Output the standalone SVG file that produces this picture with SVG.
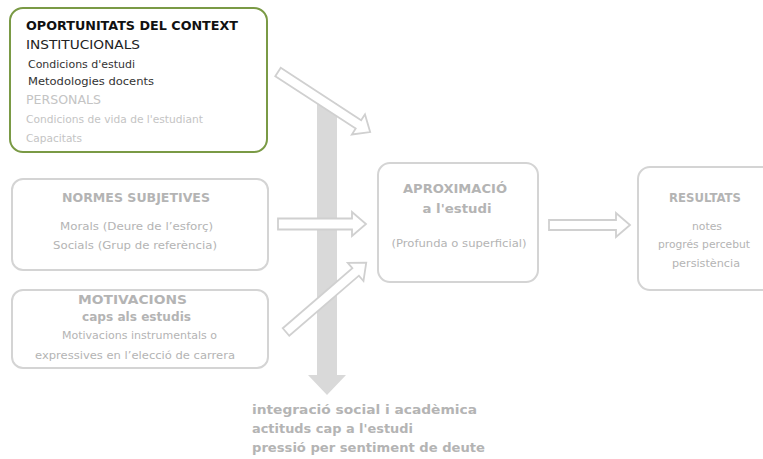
<svg xmlns="http://www.w3.org/2000/svg" width="763" height="459" viewBox="0 0 763 459">
<style>
.box{fill:#fff;stroke:#d4d4d4;stroke-width:2}
.arr{fill:#fff;stroke:#d0d0d0;stroke-width:1.8;stroke-linejoin:miter}
text{font-family:"DejaVu Sans","Liberation Sans",sans-serif;fill:#b4b4b4}
.h{font-weight:bold;font-size:12px}
.s{font-size:11px}
.c{text-anchor:middle}
</style>
<rect width="763" height="459" fill="#fff"/>
<g id="connectors">
<polygon points="317,103 337,103 337,375 346,375 327,395 308,375 317,375" fill="#d9d9d9"/>
<path class="arr" transform="translate(278,72) rotate(33.1)" d="M0,-5 H96 V-12 L110,0 L96,12 V5 H0 Z"/>
<path class="arr" transform="translate(278,224)" d="M0,-5.5 H74 V-12 L88,0 L74,12 V5.5 H0 Z"/>
<path class="arr" transform="translate(286,332) rotate(-40.8)" d="M0,-5 H92 V-12 L106,0 L92,12 V5 H0 Z"/>
<path class="arr" transform="translate(549,225)" d="M0,-5 H67 V-12 L81,0 L67,12 V5 H0 Z"/>
</g>
<g id="oportunitats">
<rect x="10" y="8" width="257" height="144" rx="13" fill="#fff" stroke="#7a9a45" stroke-width="2"/>
<text x="26" y="30" textLength="212" lengthAdjust="spacingAndGlyphs" style="font-weight:bold;font-size:13px;fill:#111">OPORTUNITATS DEL CONTEXT</text>
<text x="26" y="49" textLength="114" lengthAdjust="spacingAndGlyphs" style="font-size:13px;fill:#222">INSTITUCIONALS</text>
<text x="28" y="68" textLength="107" lengthAdjust="spacingAndGlyphs" style="font-size:10px;fill:#333">Condicions d'estudi</text>
<text x="28" y="85" textLength="126" lengthAdjust="spacingAndGlyphs" style="font-size:10px;fill:#333">Metodologies docents</text>
<text x="26" y="104" textLength="75" lengthAdjust="spacingAndGlyphs" style="font-size:13px;fill:#c4c4c4">PERSONALS</text>
<text x="26" y="123" textLength="177" lengthAdjust="spacingAndGlyphs" style="font-size:10px;fill:#c4c4c4">Condicions de vida de l'estudiant</text>
<text x="26" y="142" textLength="56" lengthAdjust="spacingAndGlyphs" style="font-size:10px;fill:#c4c4c4">Capacitats</text>
</g>
<g id="normes">
<rect class="box" x="12" y="179" width="256" height="91" rx="11"/>
<text x="136" y="202" class="h c" textLength="148" lengthAdjust="spacingAndGlyphs">NORMES SUBJETIVES</text>
<text x="136.5" y="230" class="s c" textLength="153" lengthAdjust="spacingAndGlyphs">Morals (Deure de l’esforç)</text>
<text x="135" y="249" class="s c" textLength="164" lengthAdjust="spacingAndGlyphs">Socials (Grup de referència)</text>
</g>
<g id="motivacions">
<rect class="box" x="12" y="290" width="256" height="78" rx="11"/>
<text x="132.5" y="304" class="h c" textLength="109" lengthAdjust="spacingAndGlyphs">MOTIVACIONS</text>
<text x="136.5" y="321" class="h c" textLength="109" lengthAdjust="spacingAndGlyphs">caps als estudis</text>
<text x="139.5" y="339" class="s c" textLength="155" lengthAdjust="spacingAndGlyphs">Motivacions instrumentals o</text>
<text x="135" y="359" class="s c" textLength="200" lengthAdjust="spacingAndGlyphs">expressives en l’elecció de carrera</text>
</g>
<g id="aproximacio">
<rect class="box" x="378" y="163" width="160" height="119" rx="12"/>
<text x="455" y="193" class="h c" textLength="104" lengthAdjust="spacingAndGlyphs">APROXIMACIÓ</text>
<text x="457" y="213" class="h c" textLength="69" lengthAdjust="spacingAndGlyphs">a l'estudi</text>
<text x="459" y="247" class="s c" textLength="135" lengthAdjust="spacingAndGlyphs">(Profunda o superficial)</text>
</g>
<g id="resultats">
<rect class="box" x="638" y="167" width="140" height="123" rx="12"/>
<text x="705" y="202" class="h c" textLength="72" lengthAdjust="spacingAndGlyphs">RESULTATS</text>
<text x="707" y="230" class="s c" textLength="30" lengthAdjust="spacingAndGlyphs">notes</text>
<text x="704" y="248" class="s c" textLength="92" lengthAdjust="spacingAndGlyphs">progrés percebut</text>
<text x="706" y="267" class="s c" textLength="68" lengthAdjust="spacingAndGlyphs">persistència</text>
</g>
<g id="factors">
<text x="252" y="414" class="h" textLength="225" lengthAdjust="spacingAndGlyphs">integració social i acadèmica</text>
<text x="252" y="433" class="h" textLength="161" lengthAdjust="spacingAndGlyphs">actituds cap a l'estudi</text>
<text x="252" y="452" class="h" textLength="233" lengthAdjust="spacingAndGlyphs">pressió per sentiment de deute</text>
</g>
</svg>
